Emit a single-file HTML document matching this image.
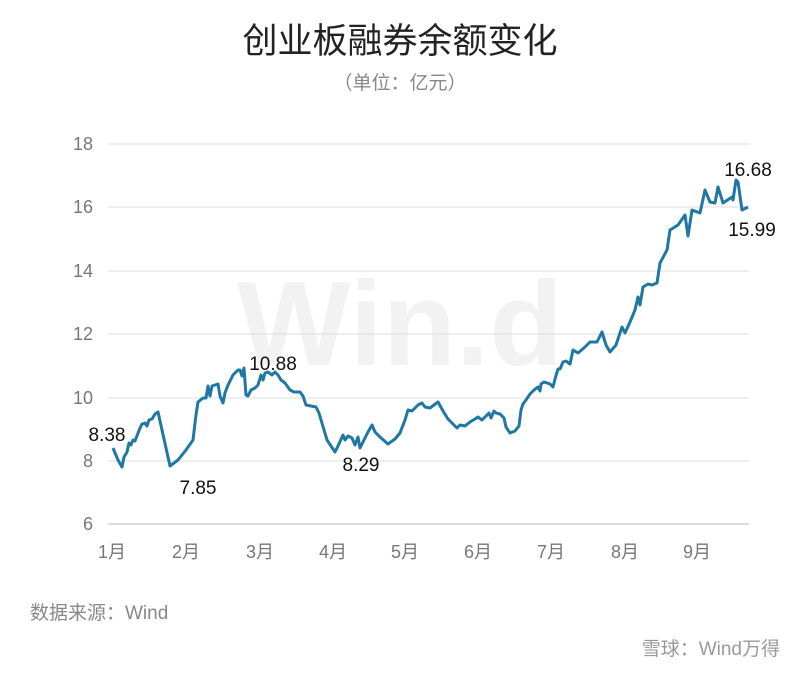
<!DOCTYPE html>
<html><head><meta charset="utf-8"><style>
body{margin:0;background:#fff;width:800px;height:671px;overflow:hidden}
text{font-family:"Liberation Sans","Noto Sans CJK SC",sans-serif}
</style></head><body>
<svg width="800" height="671" viewBox="0 0 800 671">
<rect width="800" height="671" fill="#fff"/>
<text x="400" y="53" font-size="35" text-anchor="middle" fill="#222">创业板融券余额变化</text>
<text x="400" y="89" font-size="19" text-anchor="middle" fill="#888">（单位：亿元）</text>
<text x="400" y="365" font-size="120" font-weight="bold" text-anchor="middle" fill="#f2f2f2">Win.d</text>
<g stroke="#dcdcdc" stroke-width="1">
<line x1="108" y1="144" x2="749" y2="144"/><line x1="108" y1="207" x2="749" y2="207"/>
<line x1="108" y1="271" x2="749" y2="271"/><line x1="108" y1="334" x2="749" y2="334"/>
<line x1="108" y1="398" x2="749" y2="398"/><line x1="108" y1="461" x2="749" y2="461"/>
</g>
<line x1="108" y1="524" x2="749" y2="524" stroke="#bbb"/>
<g font-size="18" fill="#777" text-anchor="end">
<text x="93" y="150">18</text><text x="93" y="213">16</text><text x="93" y="277">14</text>
<text x="93" y="340">12</text><text x="93" y="404">10</text><text x="93" y="467">8</text><text x="93" y="530">6</text>
</g>
<g font-size="18" fill="#777" text-anchor="middle">
<text x="112" y="558">1月</text><text x="186" y="558">2月</text><text x="260" y="558">3月</text>
<text x="333" y="558">4月</text><text x="405" y="558">5月</text><text x="478" y="558">6月</text>
<text x="551" y="558">7月</text><text x="625" y="558">8月</text><text x="697" y="558">9月</text>
</g>
<polyline fill="none" stroke="#1f77a4" stroke-width="3" stroke-linejoin="round" points="113,448 118,460 122,467 124,457 127,452 129,443 131,445 133,440 135,441 140,428 142,424 145,423 147,426 149,420 152,419 155,414 158,412 170,466 178,460 186,450 193,440 196,415 198,402 203,398 206,398 208,386 210,396 212,386 215,385 218,384 220,396 223,403 225,393 228,385 233,375 238,370 240,370 242,376 244,368 246,395 248,396 251,390 255,388 258,385 261,375 263,380 265,373 268,372 272,375 275,372 278,375 281,380 285,383 290,390 294,392 300,392 303,396 306,405 311,406 316,407 319,413 327,440 335,452 338,446 343,435 345,440 348,436 352,438 355,445 358,437 360,448 364,440 368,432 372,425 375,432 380,437 388,444 395,439 400,433 405,420 408,410 412,411 418,405 422,403 425,407 430,408 434,405 438,402 443,411 448,419 453,424 457,428 460,425 465,426 470,422 475,419 478,417 482,420 486,416 489,413 491,418 494,411 496,413 500,414 504,418 506,427 510,433 515,431 519,426 521,410 523,404 526,400 530,394 534,390 538,387 540,391 541,384 544,382 550,384 553,387 555,379 558,369 560,369 563,362 566,361 570,364 573,350 578,353 585,347 590,342 597,342 602,332 606,345 610,352 616,345 622,327 625,333 630,322 635,310 638,297 640,305 643,287 648,284 652,285 657,283 660,263 667,250 670,230 678,225 685,215 688,236 692,210 700,213 705,190 710,202 715,203 718,187 723,203 732,197 733,200 736,180 738,182 742,210 748,207"/>
<g font-size="19" fill="#111" text-anchor="middle">
<text x="107" y="441">8.38</text><text x="198" y="494">7.85</text><text x="273" y="370">10.88</text>
<text x="361" y="471">8.29</text><text x="748" y="176">16.68</text><text x="752" y="236">15.99</text>
</g>
<text x="30" y="619" font-size="19" fill="#888">数据来源：Wind</text>
<text x="780" y="655" font-size="19" fill="#999" text-anchor="end">雪球：Wind万得</text>
</svg>
</body></html>
